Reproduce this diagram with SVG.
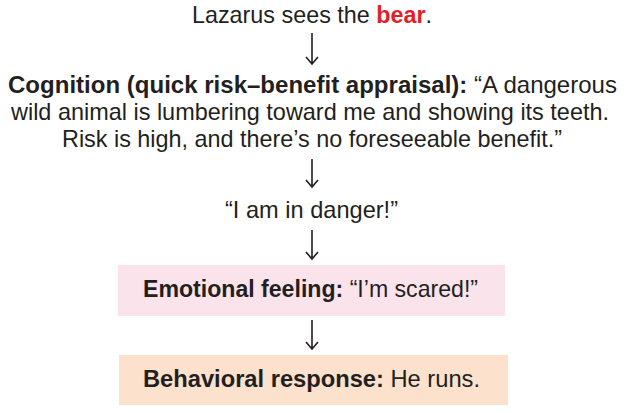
<svg xmlns="http://www.w3.org/2000/svg" width="626" height="413" viewBox="0 0 626 413">
<style>
text{font-family:"Liberation Sans",Arial,sans-serif;font-size:24px;fill:#231f20;text-anchor:middle}
.b{font-weight:bold}
.red{fill:#e31e26;font-weight:bold}
.arr{fill:none;stroke:#231f20;stroke-width:1.6}
</style>
<rect width="626" height="413" fill="#fff"/>
<g id="n1"><text x="312" y="23" textLength="240" lengthAdjust="spacingAndGlyphs">Lazarus sees the <tspan class="red">bear</tspan>.</text></g>
<g id="n2">
<text x="312.5" y="93" textLength="609" lengthAdjust="spacingAndGlyphs"><tspan class="b">Cognition (quick risk–benefit appraisal):</tspan> “A dangerous</text>
<text x="310" y="120" textLength="598" lengthAdjust="spacingAndGlyphs">wild animal is lumbering toward me and showing its teeth.</text>
<text x="312" y="147" textLength="500" lengthAdjust="spacingAndGlyphs">Risk is high, and there’s no foreseeable benefit.”</text>
</g>
<g id="n3"><text x="311.5" y="218" textLength="173" lengthAdjust="spacingAndGlyphs">“I am in danger!”</text></g>
<g id="n4"><rect x="118" y="265" width="387" height="51" fill="#fbe3ec"/><text x="310.5" y="297" textLength="335" lengthAdjust="spacingAndGlyphs"><tspan class="b">Emotional feeling:</tspan> “I’m scared!”</text></g>
<g id="n5"><rect x="119" y="355" width="389" height="50" fill="#fce1cd"/><text x="311.5" y="387" textLength="337" lengthAdjust="spacingAndGlyphs"><tspan class="b">Behavioral response:</tspan> He runs.</text></g>
<g id="connectors">
<path class="arr" d="M312 33V64M306 57L312 64L318 57"/>
<path class="arr" d="M312 159V187M306 180L312 187L318 180"/>
<path class="arr" d="M312 230V259M306 252L312 259L318 252"/>
<path class="arr" d="M312 320V349M306 342L312 349L318 342"/>
</g>
</svg>
